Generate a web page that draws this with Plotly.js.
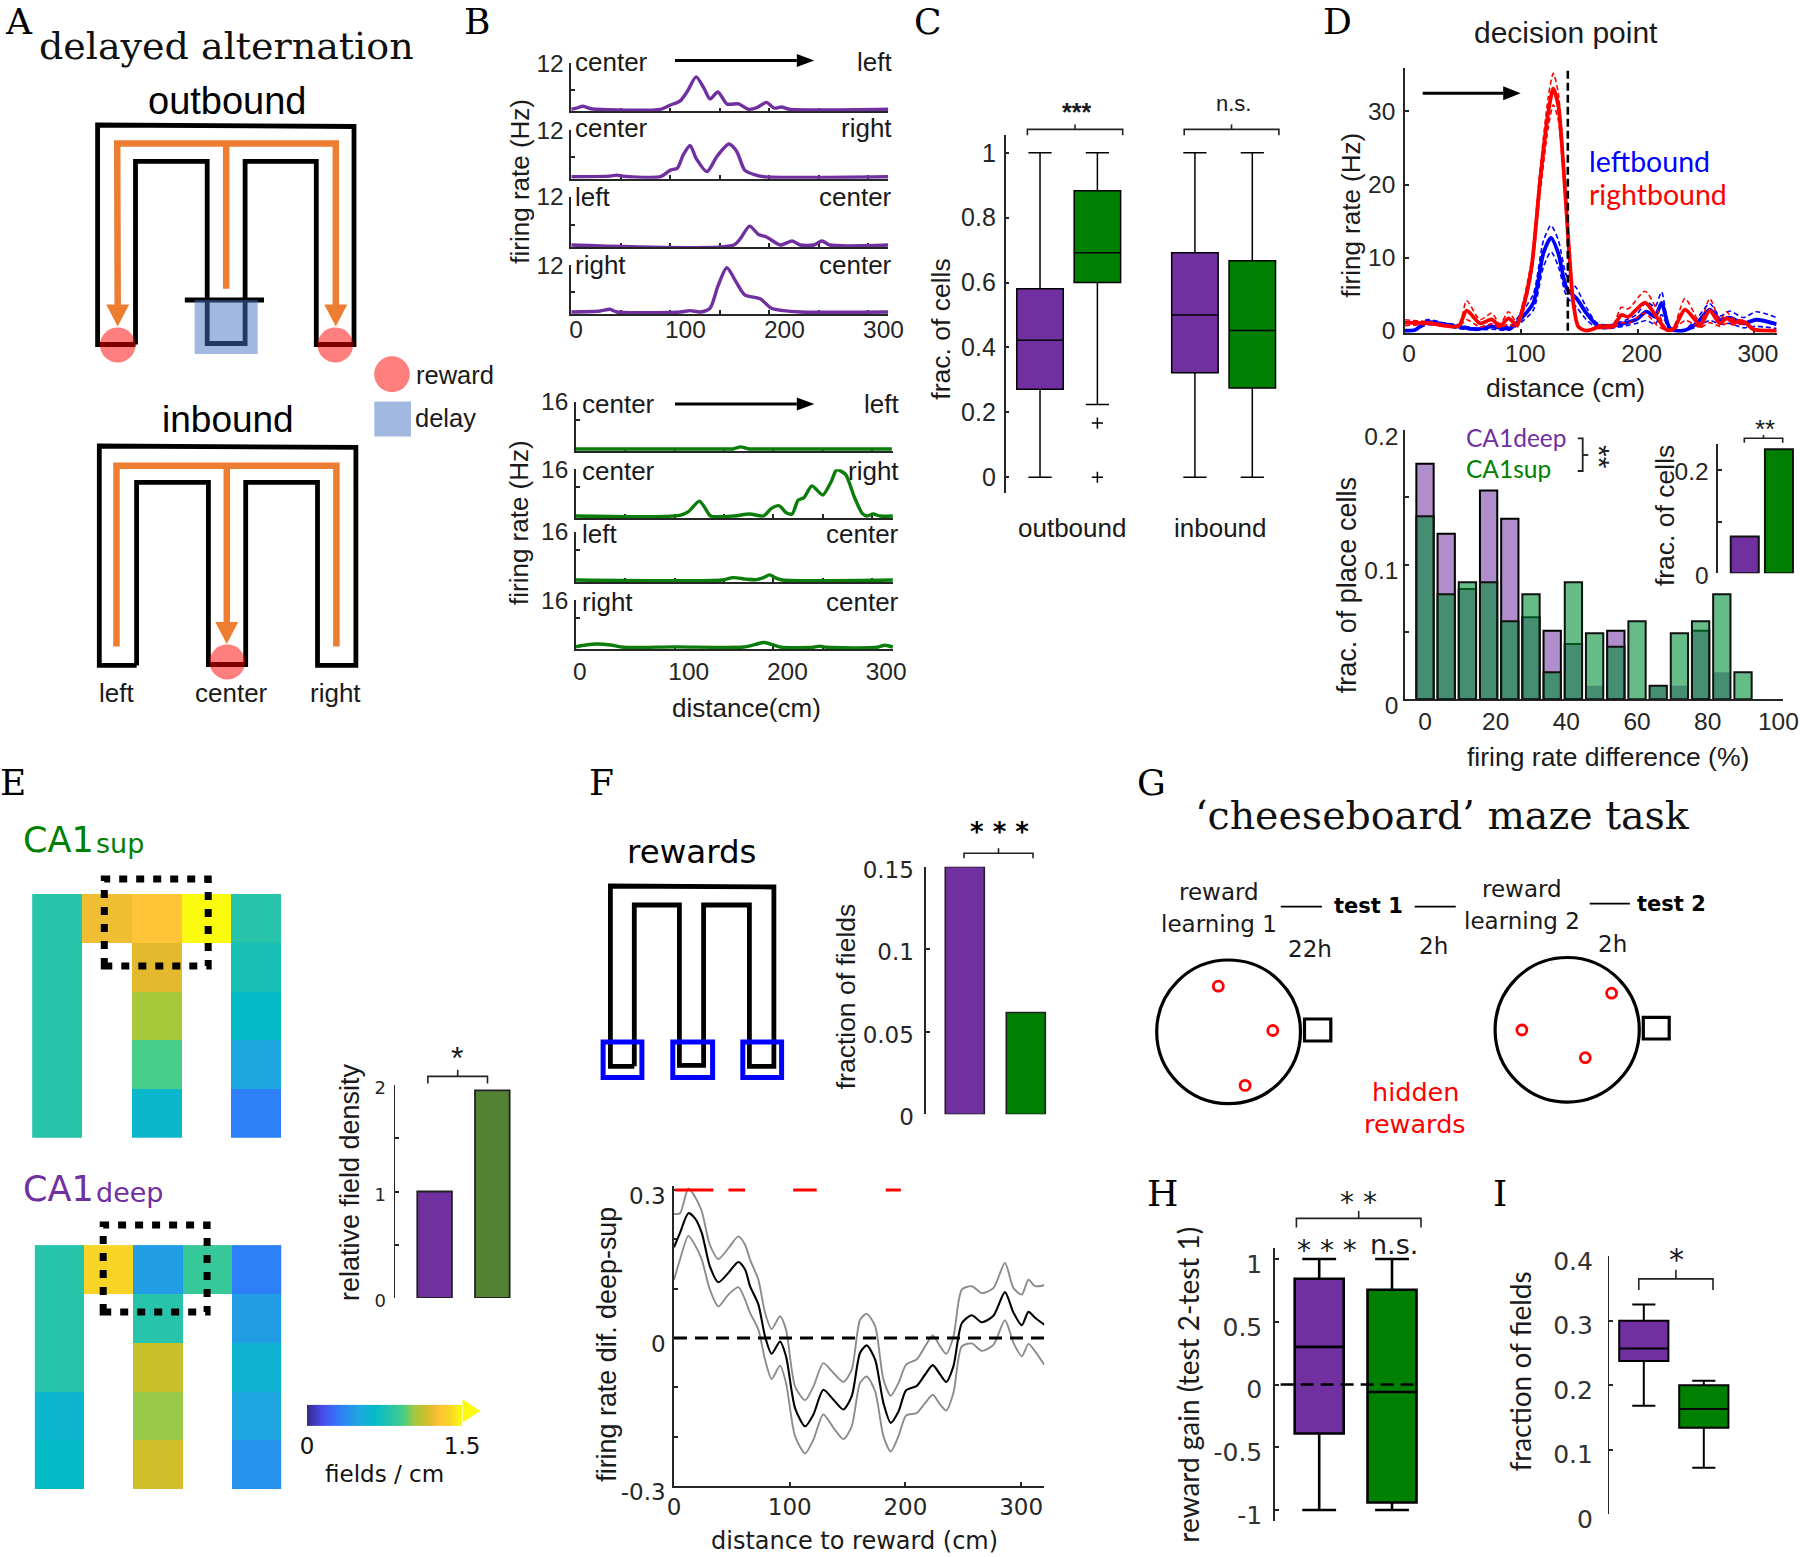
<!DOCTYPE html>
<html>
<head>
<meta charset="utf-8">
<script src="https://cdn.plot.ly/plotly-3.0.1.min.js"></script>
<style>html,body{margin:0;padding:0;background:#fff}</style>
</head>
<body>
<div id="fig" style="width:1800px;height:1557px"></div>
<script>
var PURPLE = '#7030A0', GREEN = '#008000';

// panel B, firing rate (Hz) against distance (cm)
var b1x = [0,5,12,19,25,90,100,110,117,126,134,140,148,157,169,179,188,197,205,212,220,320];
var b1y = [0,.3,.8,.2,0,0,1.1,2.2,4.6,8.4,5.4,2.7,4.5,1.4,1.4,0,.5,1.8,.3,.6,0,0];
var b2x = [0,39,46,52,59,90,100,107,113,120,126,137,147,159,167,175,184,194,320];
var b2y = [0,.15,.4,.15,0,0,1.7,2.2,5.6,8,4.7,1.3,5.2,8.4,6.5,1.7,.6,0,0];
var b3x = [0,164,171,180,189,197,211,223,231,245,253,261,320];
var b3y = [0,0,1.7,4.7,2.6,2,0,1,0,0,1,0,0];
var b4x = [0,29,39,46,110,120,130,140,148,157,167,175,191,202,214,231,320];
var b4y = [0,.25,.7,0,0,.35,0,.95,6.6,11.3,7.4,4.4,3.3,.95,.35,0,0];
var g1x = [0,120,155,160,167,174,180,320];
var g1y = [.1,.1,.1,.2,.8,.2,.1,.1];
var g2x = [0,105,114,125,131,136.5,160,176,190,198,206,213,219,225,231,239,250,259,264,273,282,290,295,301,308,321];
var g2y = [0,.2,1.5,5.1,2.6,0,0,.7,0,2.6,3.5,1.1,.7,5.4,6.3,10.3,7.2,12.1,15.8,14.3,6.5,.9,0,.7,0,0];
var g3x = [0,148,159,172,182,190,196,203,209,321];
var g3y = [0,0,.8,.3,.1,.8,1.7,.6,0,0];
var g4x = [0,10,21,35,48,100,170,182,190,198,208,240,247,254,305,313,321];
var g4y = [.2,.8,1.1,.8,0,.15,.1,1,1.6,1,0,0,.4,0,0,.7,.1];
var bTopLabels = [['center','left'],['center','right'],['left','center'],['right','center']];

// panel C boxes: outbound deep, outbound sup, inbound deep, inbound sup
var cPos = [1,2,3.7,4.7];
var cLow = [0,.224,0,0];
var cQ1 = [.271,.6,.322,.275];
var cMed = [.422,.692,.5,.452];
var cQ3 = [.581,.883,.692,.667];
var cHigh = [1,1,1,1];
var cOutliers = [.167,0];

// panel D top, tuning curves
var redX = [0,21.5,46,53,64.5,74.5,81.7,89,96,101.7,108.9,116,123.2,127.5,131.8,136,140.4,144.7,149,156,167.6,179,186,192,206.3,216.3,225,230.6,240.7,249.3,253.6,262,270.8,276.5,282,292,299.4,319.5];
var redMean = [1.1,1,.64,2.75,1,1.55,.64,1.7,.8,3.3,8.8,20.3,29.9,33.1,30.8,23,12.5,3.8,.55,0,.55,.64,2.15,1.9,3.85,1.9,.1,.2,2.9,1.5,.64,2.75,1,1.7,1.2,1.2,.2,0];
var redUp = [1.5,1.2,.75,4.1,1.5,2.4,.9,2.6,1.2,4,9.8,21.8,32,35.2,32.5,24,13.5,4.3,.7,0,.8,.9,3.2,3,5.4,3,.2,.4,4.4,2.2,.9,4.4,1.5,2.6,1.6,1.4,.3,0];
var redLo = [.7,.85,.55,1.5,.5,.9,.4,.9,.4,2.6,7.8,18.6,27.8,30.9,28.8,21.5,11.5,3.2,.4,0,.3,.4,1.1,1,2.4,.8,0,.05,1.4,.8,.4,1.1,.6,1,.8,.9,.1,0];
var blueX = [0,8.6,18.6,33,46,61.6,74.5,90,98.9,110.3,119,125.5,131.8,139,147.6,156,164.8,176,190.5,199,207.7,215,220.6,227.8,239,250.7,262,270.8,279.4,290.8,302,319.5];
var blueMean = [0,.1,1.2,.9,.55,.2,.55,.3,1.5,3.8,10.6,12.7,10.6,5.8,4.4,2.4,.8,.55,1.1,1.55,2.6,1.9,3.8,.3,0,1,2.9,1.5,1.8,1,1.5,.9];
var blueUp = [0,.1,1.5,1.1,.8,.35,.9,.6,2.2,5,12.3,14.4,12.4,7.5,5.8,3.2,1.1,.8,1.5,2.2,3.9,3.3,5.3,.5,0,1.6,3.7,2,2.7,1.8,2.6,1.8];
var blueLo = [0,.05,.8,.7,.3,.1,.2,.1,1,2.8,8.7,10.8,8.8,4.7,3.2,1.5,.4,.3,.7,1,1.4,.9,2.2,.1,0,.5,1.4,.9,1,.4,.6,.3];

// panel D bottom, histogram and inset
var histX = [0,6,12,18,24,30,36,42,48,54,60,66,72,78,84,90];
var histDeep = [.175,.123,.082,.155,.134,.061,.051,.041,.01,.051,0,.01,.01,.051,.02,0];
var histSup = [.136,.078,.087,.087,.058,.078,.02,.087,.049,.039,.058,.01,.049,.058,.078,.02];
var insetVals = [.071,.24];

// panel E heat maps, fields / cm, null where there is no maze arm
var supGrid = [[.81,1.24,1.29,1.5,.81],[.81,null,1.2,null,.75],[.81,null,1.05,null,.66],[.81,null,.93,null,.51],[.81,null,.63,null,.33]];
var deepGrid = [[.81,1.38,.46,.87,.33],[.81,null,.81,null,.46],[.81,null,1.14,null,.6],[.62,null,1.03,null,.5],[.66,null,1.16,null,.41]];
var densityVals = [1,1.95];

// panel F
var fieldFrac = [.15,.0617];
var fX = [0,5.2,12.4,18,24,31,38.3,47,55.6,61.4,65.7,72.9,78.7,84.4,91.6,96.8,104.6,113.3,120.5,129,137.8,146.4,153.6,160.8,166.6,173.8,181,187.3,194,200.6,209.8,217,223.6,230,235.2,241.5,248.7,257.3,266,276,286,293.4,300.6,306.3,312,320];
var fMean = [.184,.213,.253,.243,.213,.145,.113,.132,.154,.139,.105,.068,.003,-.032,-.007,-.037,-.142,-.179,-.155,-.105,-.125,-.145,-.118,-.03,-.015,-.044,-.132,-.172,-.149,-.106,-.097,-.074,-.055,-.074,-.089,-.057,.03,.046,.032,.045,.093,.051,.026,.053,.041,.027];
var fUp = [.251,.253,.303,.287,.257,.189,.16,.182,.206,.189,.159,.118,.051,.018,.044,.017,-.098,-.126,-.098,-.051,-.071,-.089,-.064,.037,.049,.024,-.084,-.117,-.091,-.054,-.043,-.017,.005,-.017,-.032,.003,.098,.105,.091,.101,.152,.101,.088,.118,.105,.107];
var fLo = [.118,.159,.207,.189,.159,.098,.064,.088,.103,.078,.051,.017,-.044,-.083,-.056,-.091,-.199,-.234,-.206,-.155,-.182,-.205,-.179,-.091,-.078,-.108,-.199,-.23,-.199,-.157,-.152,-.132,-.115,-.135,-.147,-.111,-.017,-.011,-.026,-.014,.036,-.01,-.037,-.012,-.027,-.054];
var sigX = [1,34,null,47,61.4,null,103,123.3,null,183,196];
var sigY = [.3,.3,null,.3,.3,null,.3,.3,null,.3,.3];

// panel H and I boxes
var hLow = [-1,-1], hQ1 = [-.39,-.94], hMed = [.3,-.06], hQ3 = [.843,.755], hHigh = [1,1];
var iLow = [.168,.072], iQ1 = [.2375,.134], iMed = [.257,.163], iQ3 = [.3,.2], iHigh = [.325,.207];

// parula like ramp of the colour bar
var ramp = [[0,'#352A87'],[.1,'#4A4CF0'],[.22,'#2E80F8'],[.34,'#1CA8DE'],[.44,'#05BBC8'],[.54,'#27C3AA'],[.62,'#46CD88'],[.7,'#A8C83C'],[.76,'#C8C02A'],[.8,'#E3BA2E'],[.86,'#FFC437'],[.92,'#F8D426'],[1,'#FAFB0F']];

var W = 1800, H = 1557;
var SANS = 'Liberation Sans', WIDE = 'DejaVu Sans', SERIF = 'DejaVu Serif', CAL = 'Lato';
var data = [], shapes = [], annotations = [];
var layout = {
  width: W, height: H,
  margin: {l: 0, r: 0, t: 0, b: 0, autoexpand: false},
  paper_bgcolor: '#fff', plot_bgcolor: 'rgba(0,0,0,0)',
  showlegend: false, hovermode: false,
  boxmode: 'overlay', barmode: 'overlay',
  font: {family: SANS, color: '#262626', size: 24},
  shapes: shapes, annotations: annotations,
  coloraxis: {
    cmin: 0, cmax: 1.5, colorscale: ramp,
    colorbar: {
      orientation: 'h', x: 307.1 / W, xanchor: 'left', y: 1 - 1487 / H, yanchor: 'bottom',
      len: 155.4, lenmode: 'pixels', thickness: 21, thicknessmode: 'pixels',
      xpad: 0, ypad: 0, outlinewidth: 0, ticks: '', tickvals: [0, 1.5], ticktext: ['0', '1.5'],
      tickfont: {family: WIDE, size: 23, color: '#111'},
      title: {text: 'fields / cm', side: 'bottom', font: {family: WIDE, size: 23, color: '#111'}}
    }
  }
};

var axisCount = 0;
function panel(x0, x1, yTop, yBot, xOpt, yOpt) {
  axisCount++;
  var n = axisCount === 1 ? '' : axisCount;
  var base = {showgrid: false, zeroline: false, showline: true, linecolor: '#262626', linewidth: 1.5, layer: 'below traces',
    ticks: 'inside', ticklen: 4, tickcolor: '#262626', tickwidth: 1.5, fixedrange: true};
  layout['xaxis' + n] = Object.assign({}, base, {domain: [x0 / W, x1 / W], anchor: 'y' + n}, xOpt);
  layout['yaxis' + n] = Object.assign({}, base, {domain: [1 - yBot / H, 1 - yTop / H], anchor: 'x' + n}, yOpt);
  return {xaxis: 'x' + n, yaxis: 'y' + n};
}
function add(p, trace) { data.push(Object.assign({}, p, trace)); }

function px(x) { return (x / W).toFixed(5); }
function py(y) { return (1 - y / H).toFixed(5); }
function poly(pts, line, fill, closed) {
  var d = pts.map(function (p, i) { return (i ? 'L' : 'M') + px(p[0]) + ' ' + py(p[1]); }).join(' ');
  shapes.push({type: 'path', xref: 'paper', yref: 'paper', path: d + (closed ? ' Z' : ''),
    line: line || {width: 0}, fillcolor: fill || 'rgba(0,0,0,0)', layer: 'above'});
}
function box(x0, y0, x1, y1, line, fill, kind) {
  shapes.push({type: kind || 'rect', xref: 'paper', yref: 'paper', x0: x0 / W, x1: x1 / W, y0: 1 - y1 / H, y1: 1 - y0 / H,
    line: line || {width: 0}, fillcolor: fill || 'rgba(0,0,0,0)', layer: 'above'});
}
function disc(cx, cy, rx, ry, line, fill) { box(cx - rx, cy - ry, cx + rx, cy + ry, line, fill, 'circle'); }
function txt(s, x, y, size, o) {
  o = o || {};
  annotations.push({text: s, x: x / W, y: 1 - y / H, xref: 'paper', yref: 'paper', showarrow: false,
    xanchor: o.anchor || 'center', yanchor: 'middle', textangle: o.angle || 0, borderpad: 0, borderwidth: 0,
    font: {family: o.font || SANS, size: size, color: o.color || '#1a1a1a'}});
}
function vtxt(s, x, y, size, o) { txt(s, x, y, size, Object.assign({angle: -90}, o || {})); }
function letter(s, x, y) { txt(s, x, y, 36, {font: SERIF, color: '#000'}); }
function bracket(x0, x1, yb, yt, ym) {
  poly([[x0, yb], [x0, yt], [x1, yt], [x1, yb]], {width: 1.6, color: '#222'});
  poly([[(x0 + x1) / 2, yt], [(x0 + x1) / 2, ym]], {width: 1.6, color: '#222'});
}
function arrow(x0, x1, y, head, half) {
  poly([[x0, y], [x1 - head, y]], {width: 3, color: '#000'});
  poly([[x1 - head, y - half], [x1, y], [x1 - head, y + half]], {width: 0}, '#000', true);
}
function boxTrace(p, x, low, q1, med, q3, high, color, w, whisk, lw) {
  add(p, {type: 'box', x: [x], lowerfence: [low], q1: [q1], median: [med], q3: [q3], upperfence: [high],
    width: w, whiskerwidth: whisk, boxpoints: false, fillcolor: color, line: {color: '#000', width: lw}, hoverinfo: 'skip'});
}

// ---- A
letter('A', 19, 22);
txt('delayed alternation', 226, 46, 38, {font: SERIF, color: '#111'});
txt('outbound', 227, 100.5, 38, {color: '#000'});
txt('inbound', 228, 419.5, 37, {color: '#000'});
var orange = {width: 6.5, color: '#ED7D31'}, mazeLine = {width: 4.8, color: '#000'};
var xm = [97.6,135.5,207.2,245.1,316.3,354];
poly([[xm[1],344.5],[xm[0],344.5],[xm[0],125],[xm[5],126.5],[xm[5],344.5],[xm[4],344.5],[xm[4],161.4],[xm[3],161.4],[xm[3],343.5],[xm[2],343.5],[xm[2],161.4],[xm[1],161.4],[xm[1],344.5]], mazeLine);
poly([[184.8,300],[264,300]], mazeLine);
poly([[117.7,306],[117.2,143.5],[335.8,143.5],[335.8,306]], orange);
poly([[226.2,143.5],[226.2,288.8]], orange);
poly([[106.2,304.4],[129.2,304.4],[117.7,326.6]], null, '#ED7D31', true);
poly([[324.3,304.4],[347.3,304.4],[335.8,326.6]], null, '#ED7D31', true);
box(194.6, 300, 257.7, 354, null, 'rgba(68,114,196,.5)');
disc(117.7, 345, 17.8, 17.5, null, 'rgba(255,0,0,.5)');
disc(335.3, 345, 17.8, 17.5, null, 'rgba(255,0,0,.5)');
disc(392, 374.2, 17.8, 18, null, 'rgba(255,0,0,.5)');
box(374.3, 401.6, 411, 436.5, null, 'rgba(68,114,196,.5)');
txt('reward', 416, 375, 25.5, {anchor: 'left'});
txt('delay', 414.5, 417.6, 25.5, {anchor: 'left'});
var xi = [99.3,136.6,208.4,245.7,317.5,355.9];
poly([[xi[1],665.4],[xi[0],665.4],[xi[0],446],[xi[5],447.4],[xi[5],665.4],[xi[4],665.4],[xi[4],482.3],[xi[3],482.3],[xi[3],664.5],[xi[2],664.5],[xi[2],482.3],[xi[1],482.3],[xi[1],665.4]], mazeLine);
poly([[116.5,646.5],[116.5,465.8],[336.4,465.8],[336.4,646.5]], orange);
poly([[226.8,465.8],[226.8,624]], orange);
poly([[215.3,622],[238.2,622],[226.8,644]], null, '#ED7D31', true);
disc(227.3, 662, 17.8, 17.5, null, 'rgba(255,0,0,.5)');
txt('left', 116.5, 692.8, 26); txt('center', 231.3, 692.8, 26); txt('right', 335.8, 692.8, 26);

// ---- B
letter('B', 476.5, 22);
var bTicks = [0,50,100,150,200,250,300], bText = ['0\u00a0\u00a0\u00a0','','100','','200','','300'];
function traceStack(series, color, tops, bots, x0, x1, span, yMax, minorY, lblX, lblR, lblY, shift, standoff) {
  series.forEach(function (s, i) {
    var last = i === series.length - 1;
    // lines are clipped at the subplot edge, so the box runs 2px under the zero line
    var below = 2 * yMax / (bots[i] - tops[i]);
    var p = panel(x0, x1, tops[i], bots[i] + 2,
      {range: [0, span], tickvals: bTicks, ticktext: bText, showticklabels: last, ticklabelshift: shift, ticklabelstandoff: standoff, tickfont: {size: 24.5}},
      {range: [-below, yMax], tickvals: [minorY, yMax], ticktext: ['', String(yMax)], tickfont: {size: 24.5}, ticklabelstandoff: 1});
    add(p, {type: 'scatter', mode: 'lines', x: s[0], y: s[1],
      line: {color: color, width: 3.4, shape: 'spline', smoothing: .7}, hoverinfo: 'skip'});
    txt(bTopLabels[i][0], lblX, lblY[i], 26, {anchor: 'left'});
    txt(bTopLabels[i][1], lblR, lblY[i], 26, {anchor: 'right'});
  });
}
traceStack([[b1x,b1y],[b2x,b2y],[b3x,b3y],[b4x,b4y]], PURPLE, [63,130,196.7,265], [109.3,176.7,245,312],
  571.3, 888.3, 320, 12, 5, 575, 891.7, [61.7,128,196.7,265], 15, -7);
traceStack([[g1x,g1y],[g2x,g2y],[g3x,g3y],[g4x,g4y]], '#0B7D0B', [401.7,469.3,531.7,600], [449.3,516,580,647.3],
  576, 893.3, 321.5, 16, 10, 582.3, 899, [404,470.7,534,601.7], 14, 0);
arrow(675, 814.3, 60.5, 17.5, 6.5);
arrow(675, 814.3, 404, 17.5, 6.5);
vtxt('firing rate (Hz)', 520, 181.7, 26);
vtxt('firing rate (Hz)', 518.3, 522.7, 26);
txt('distance(cm)', 746.7, 708.3, 26);

// ---- C
letter('C', 927.6, 22);
var pC = panel(1005.6, 1285, 135.3, 492.5, {visible: false, range: [.4, 5.27]},
  {range: [-.047, 1.054], tickvals: [0,.2,.4,.6,.8,1], ticktext: ['0','0.2','0.4','0.6','0.8','1'], tickfont: {size: 25}, ticklabelstandoff: 3});
cPos.forEach(function (x, i) {
  boxTrace(pC, x, cLow[i], cQ1[i], cMed[i], cQ3[i], cHigh[i], i % 2 ? GREEN : PURPLE, .81, .5, 1.5);
});
add(pC, {type: 'scatter', mode: 'markers', x: cOutliers.map(function () { return cPos[1]; }), y: cOutliers, cliponaxis: false,
  marker: {symbol: 'cross-thin-open', size: 8, color: '#000', line: {color: '#000', width: 1.5}}, hoverinfo: 'skip'});
vtxt('frac. of cells', 941.3, 329.4, 26.5);
txt('outbound', 1072.2, 528.4, 26); txt('inbound', 1220.3, 528.4, 26);
bracket(1027.4, 1122.7, 135.3, 129.4, 124.4);
bracket(1184.2, 1278.9, 135.3, 129.4, 124.4);
txt('<b>***</b>', 1076.8, 112, 25); txt('n.s.', 1233.5, 103.5, 22);

// ---- D top
letter('D', 1337.4, 22);
txt('decision point', 1565.9, 32.8, 30);
var pD = panel(1405, 1776.7, 68.3, 332.7,
  {range: [0, 319.6], tickvals: [0,100,200,300], ticklabelshift: 4, ticklabelstandoff: -2, tickfont: {size: 24.5}},
  {range: [-.27, 35.9], tickvals: [0,10,20,30], tickfont: {size: 24.5}, ticklabelstandoff: 3});
function curve(x, y, color, width, dash) {
  add(pD, {type: 'scatter', mode: 'lines', x: x, y: y,
    line: {color: color, width: width, dash: dash, shape: 'spline', smoothing: .7}, hoverinfo: 'skip'});
}
curve(blueX, blueUp, '#0000FF', 1.6, '5px,3px'); curve(blueX, blueLo, '#0000FF', 1.6, '5px,3px'); curve(blueX, blueMean, '#0000FF', 3.8);
curve(redX, redUp, '#FF0000', 1.6, '5px,3px'); curve(redX, redLo, '#FF0000', 1.6, '5px,3px'); curve(redX, redMean, '#FF0000', 3.8);
add(pD, {type: 'scatter', mode: 'lines', x: [140, 140], y: [0, 35.9], line: {color: '#000', width: 2.6, dash: '8px,4px'}, hoverinfo: 'skip'});
arrow(1422.7, 1520.7, 93.3, 17.5, 7);
vtxt('firing rate (Hz)', 1350.5, 215, 26);
txt('distance (cm)', 1565.9, 388, 26.5);
txt('leftbound', 1589.3, 161, 28.5, {anchor: 'left', color: '#0000FF', font: CAL});
txt('rightbound', 1589.3, 194, 28.5, {anchor: 'left', color: '#FF0000', font: CAL});

// ---- D histogram
var pH = panel(1405, 1783.3, 430, 699.3,
  {range: [-5.66, 101.4], tickvals: [0,20,40,60,80,100], ticks: '', tickfont: {size: 24.5}},
  {range: [0, .2], tickvals: [0,.05,.1,.15,.2], ticktext: ['0','','0.1','','0.2'], tickfont: {size: 24.5}, ticklabelshift: 6});
add(pH, {type: 'bar', x: histX, y: histDeep, width: 4.9, hoverinfo: 'skip',
  marker: {color: 'rgba(112,48,160,.55)', line: {color: '#000', width: histDeep.map(function (v) { return v > .02 ? 2 : 0; })}}});
add(pH, {type: 'bar', x: histX, y: histSup, width: 4.9, hoverinfo: 'skip',
  marker: {color: 'rgba(0,143,55,.6)', line: {color: '#111', width: 2}}});
vtxt('frac. of place cells', 1346.6, 585.6, 27);
txt('firing rate difference (%)', 1607.8, 757, 26.5);
txt('CA1deep', 1466, 437.3, 24.5, {anchor: 'left', color: PURPLE, font: CAL});
txt('CA1sup', 1466, 468.3, 24.5, {anchor: 'left', color: GREEN, font: CAL});
poly([[1577.7,438.3],[1582.7,438.3],[1582.7,471],[1577.7,471]], {width: 1.8, color: '#222'});
poly([[1582.7,455],[1588.3,455]], {width: 1.8, color: '#222'});
txt('**', 1600, 457, 30, {angle: 90});

var pIn = panel(1718.3, 1795, 444, 573.3, {visible: false, range: [.226, 2.47]},
  {range: [0, .25], tickvals: [0,.1,.2], ticktext: ['0','','0.2'], tickfont: {size: 24.5}, ticklabelstandoff: 3, ticklabelshift: 2});
add(pIn, {type: 'bar', x: [1, 2], y: insetVals, width: .82, hoverinfo: 'skip',
  marker: {color: [PURPLE, GREEN], line: {color: '#111', width: 2}}});
vtxt('frac. of cells', 1664.3, 515.8, 26.5);
bracket(1744.3, 1782.7, 442.7, 438.3, 435);
txt('**', 1765, 429, 26);

// ---- E
letter('E', 12.5, 782.7);
txt('CA1', 23, 840, 35, {anchor: 'left', font: WIDE, color: GREEN});
txt('sup', 96, 843, 27, {anchor: 'left', font: WIDE, color: GREEN});
txt('CA1', 23, 1189, 35, {anchor: 'left', font: WIDE, color: PURPLE});
txt('deep', 96, 1192, 27, {anchor: 'left', font: WIDE, color: PURPLE});
function heat(z, x0, x1, y0, y1) {
  var p = panel(x0, x1, y0, y1, {visible: false, range: [-.5, 4.5]}, {visible: false, range: [4.5, -.5]});
  add(p, {type: 'heatmap', z: z, coloraxis: 'coloraxis', hoverinfo: 'skip', xgap: 0, ygap: 0});
}
heat(supGrid, 32.1, 281, 894, 1137.8);
heat(deepGrid, 34.6, 281.4, 1245.1, 1489);
var dots = {width: 7, color: '#000', dash: '8px,9px'};
box(104.3, 878.9, 208.2, 966, dots);
box(103.2, 1225, 207.1, 1312.1, dots);
poly([[462.5,1399.3],[480.4,1410.9],[462.5,1422.4]], null, '#FAFB0F', true);
var pE = panel(394.6, 515, 1085, 1298, {visible: false, range: [.307, 2.393]},
  {range: [0, 2], tickvals: [0,.5,1,1.5,2], ticktext: ['0','','1','','2'], tickfont: {family: WIDE, size: 18}, ticklabelstandoff: 4, linewidth: 1.2, ticklabelshift: 3});
add(pE, {type: 'bar', x: [1, 2], y: densityVals, width: .6, hoverinfo: 'skip',
  marker: {color: [PURPLE, '#548235'], line: {color: '#222', width: 1.8}}});
vtxt('relative field density', 350, 1182, 27);
bracket(427.9, 487.5, 1083.4, 1076.4, 1069.8);
txt('*', 457, 1058, 32);

// ---- F
letter('F', 601.5, 782.7);
txt('rewards', 691.7, 851.7, 32.5, {font: WIDE, color: '#000'});
var xf = [610.4,634.3,679.4,703.6,749.4,773.9];
poly([[xf[1],1066.3],[xf[0],1066.3],[xf[0],886],[xf[5],887],[xf[5],1066.3],[xf[4],1066.3],[xf[4],905],[xf[3],905],[xf[3],1065.3],[xf[2],1065.3],[xf[2],905],[xf[1],905],[xf[1],1066.3]], mazeLine);
var blueBox = {width: 5, color: '#0000FF'};
box(603.1,1042,641.9,1077.4,blueBox); box(672.8,1042,712.6,1077.4,blueBox); box(742.8,1042,781.6,1077.4,blueBox);
var pF = panel(925.5, 1051.3, 866.8, 1114.2, {visible: false, range: [.356, 2.418]},
  {range: [0, .15], tickvals: [0,.05,.1,.15], ticktext: ['0','0.05','0.1','0.15'], tickfont: {family: WIDE, size: 23}, ticklabelstandoff: 5, ticklabelshift: 3, linewidth: 2});
add(pF, {type: 'bar', x: [1, 2], y: fieldFrac, width: .64, hoverinfo: 'skip',
  marker: {color: [PURPLE, GREEN], line: {color: '#222', width: 1.6}}});
vtxt('fraction of fields', 845.5, 996.8, 26.5);
bracket(964, 1033, 858.2, 853.2, 848.2);
txt('<b>* * *</b>', 999, 832, 26, {font: WIDE, color: '#000'});

// 4px of headroom above 0.3 so the red bars and the grey peak are not clipped
var pL = panel(674, 1044.3, 1186, 1486,
  {range: [0, 320], tickvals: [0,100,200,300], tickfont: {family: WIDE, size: 23}},
  {range: [-.3, .3081], tickvals: [-.3,-.2,-.1,0,.1,.2,.3], ticktext: ['-0.3','','','0','','','0.3'], tickfont: {family: WIDE, size: 23}, ticklabelshift: 6, ticklabelstandoff: 2});
function fLine(y, color, width) {
  add(pL, {type: 'scatter', mode: 'lines', x: fX, y: y,
    line: {color: color, width: width, shape: 'spline', smoothing: .7}, hoverinfo: 'skip'});
}
fLine(fUp, '#8c8c8c', 1.9); fLine(fLo, '#8c8c8c', 1.9); fLine(fMean, '#000', 2.1);
add(pL, {type: 'scatter', mode: 'lines', x: [0, 320], y: [0, 0], line: {color: '#000', width: 3.2, dash: '13px,8px'}, hoverinfo: 'skip'});
add(pL, {type: 'scatter', mode: 'lines', x: sigX, y: sigY, line: {color: '#FF0000', width: 2.8}, hoverinfo: 'skip'});
vtxt('firing rate dif. deep-sup', 607.4, 1344.4, 26.9);
txt('distance to reward (cm)', 854.5, 1541, 24, {font: WIDE});

// ---- G
letter('G', 1151.3, 782.7);
txt('\u2018cheeseboard\u2019 maze task', 1442, 815.4, 39.5, {font: SERIF, color: '#111'});
function g(s, x, y, o) { txt(s, x, y, 23, Object.assign({font: WIDE}, o || {})); }
g('reward', 1219.2, 892); g('learning 1', 1219.2, 923.7);
g('reward', 1522.3, 888.5); g('learning 2', 1522.3, 920.7);
txt('<b>test 1</b>', 1368.3, 906, 21, {font: WIDE, color: '#000'});
txt('<b>test 2</b>', 1671.4, 904, 21, {font: WIDE, color: '#000'});
g('22h', 1309.8, 949); g('2h', 1433.5, 946.4); g('2h', 1612, 943.9);
var thin = {width: 1.8, color: '#000'};
poly([[1280.8,906.6],[1321.9,906.6]], thin);
poly([[1414.7,906.6],[1455.8,906.6]], thin);
poly([[1589.7,903.6],[1629.9,903.6]], thin);
var ring = {width: 3.2, color: '#000'}, redRing = {width: 2.8, color: '#FF0000'};
disc(1228.6, 1031.8, 71.9, 71.8, ring);
disc(1567.2, 1029.8, 72.1, 72.3, ring);
box(1304.5, 1019, 1330.8, 1041, ring);
box(1643.3, 1017.4, 1669.2, 1039, ring);
[[1218.3,986.2],[1272.8,1030.5],[1245.1,1085.4],[1611.6,993.2],[1521.9,1030],[1585.3,1057.7]].forEach(function (c) {
  disc(c[0], c[1], 5, 5, redRing);
});
txt('hidden', 1415.2, 1091.5, 25.5, {font: WIDE, color: '#FF0000'});
txt('rewards', 1415.2, 1124.2, 25.5, {font: WIDE, color: '#FF0000'});

// ---- H
letter('H', 1162.5, 1193.2);
var tickH = {family: WIDE, size: 25, color: '#333'};
var pHb = panel(1275, 1425, 1247.7, 1520.7, {visible: false, range: [.393, 2.453]},
  {range: [-1.085, 1.09], tickvals: [-1,-.5,0,.5,1], ticktext: ['-1','-0.5','0','0.5','1'], tickfont: tickH, ticklabelshift: 5, ticklabelstandoff: 6});
[0, 1].forEach(function (i) {
  boxTrace(pHb, i + 1, hLow[i], hQ1[i], hMed[i], hQ3[i], hHigh[i], i ? GREEN : PURPLE, .673, .69, 2.6);
});
add(pHb, {type: 'scatter', mode: 'lines', x: [.47, 2.32], y: [0, 0], line: {color: '#000', width: 2.4, dash: '13px,7px'}, hoverinfo: 'skip'});
vtxt('reward gain (test 2-test 1)', 1188, 1384.7, 28, {font: CAL});
bracket(1296.4, 1421, 1227.5, 1218.4, 1210.9);
txt('* *', 1358.9, 1202, 28, {font: WIDE});
txt('* * *', 1326.8, 1250, 28, {font: WIDE});
txt('n.s.', 1393.8, 1244.6, 27, {font: WIDE});

// ---- I
letter('I', 1499.6, 1193.2);
var pI = panel(1609, 1735, 1256.2, 1514.2, {visible: false, range: [.42, 2.52]},
  {range: [0, .4], tickvals: [0,.1,.2,.3,.4], ticktext: ['0','0.1','0.2','0.3','0.4'], tickfont: tickH, ticklabelshift: 5, ticklabelstandoff: 10, linewidth: 1.2});
[0, 1].forEach(function (i) {
  boxTrace(pI, i + 1, iLow[i], iQ1[i], iMed[i], iQ3[i], iHigh[i], i ? GREEN : PURPLE, .82, .47, 2);
});
vtxt('fraction of fields', 1519.6, 1372, 28, {font: CAL});
bracket(1638.8, 1713, 1290, 1278.9, 1269.8);
txt('*', 1676.8, 1259, 30, {font: WIDE});

Plotly.newPlot('fig', data, layout, {displayModeBar: false, responsive: false});
</script>
</body>
</html>
